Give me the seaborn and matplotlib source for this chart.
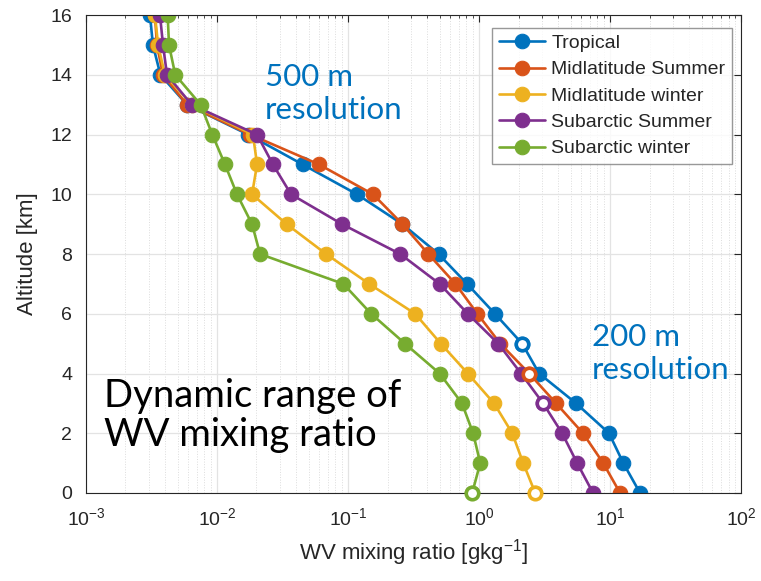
import numpy as np
import pandas as pd
import seaborn as sns
import matplotlib.pyplot as plt
from matplotlib.ticker import LogLocator, NullFormatter

# ==============================
# data
# ==============================
altitude = [0, 1, 2, 3, 4, 5, 6, 7, 8, 9, 10, 11, 12, 13, 14, 15, 16]

tropical = [16.9, 12.6, 9.8, 5.5, 2.87, 2.13, 1.32, 0.81, 0.49, 0.26,
            0.117, 0.045, 0.0173, 0.0059, 0.0037, 0.00324, 0.00308]
midlat_summer = [11.9, 8.85, 6.2, 3.87, 2.41, 1.45, 0.97, 0.66, 0.41, 0.26,
                 0.155, 0.060, 0.0179, 0.0059, 0.00387, 0.00348, 0.00336]
midlat_winter = [2.68, 2.17, 1.79, 1.30, 0.82, 0.51, 0.325, 0.145, 0.068, 0.034,
                 0.0185, 0.0202, 0.0188, 0.0064, 0.0040, 0.00355, 0.00336]
subarc_summer = [7.4, 5.6, 4.3, 3.08, 2.09, 1.40, 0.82, 0.50, 0.25, 0.090,
                 0.0367, 0.0267, 0.0202, 0.0064, 0.00415, 0.00387, 0.00367]
subarc_winter = [0.885, 1.02, 0.90, 0.74, 0.50, 0.272, 0.150, 0.092, 0.0213, 0.0185,
                 0.0142, 0.0115, 0.0092, 0.0075, 0.0048, 0.0043, 0.0042]

names = ["Tropical", "Midlatitude Summer", "Midlatitude winter",
         "Subarctic Summer", "Subarctic winter"]
profiles = [tropical, midlat_summer, midlat_winter, subarc_summer, subarc_winter]
colors = ["#0072BD", "#D95319", "#EDB120", "#7E2F8E", "#77AC30"]

# altitude where each profile switches resolution (open marker)
switch_alt = [5, 4, 0, 3, 0]

# ==============================
# build long table
# ==============================
rows = []
for name, vals in zip(names, profiles):
    for z, v in zip(altitude, vals):
        rows.append({"profile": name, "alt": z, "wv": v})
df = pd.DataFrame(rows)

# ==============================
# plot
# ==============================
sns.set_style("white")
plt.rcParams['font.family'] = ['Liberation Sans', 'DejaVu Sans']

fig = plt.figure(figsize=(7.61, 5.81), dpi=100)
ax = fig.add_axes([0.113, 0.1515, 0.861, 0.8225])

for name, c in zip(names, colors):
    sub = df[df["profile"] == name]
    sns.lineplot(data=sub, x="wv", y="alt", ax=ax, sort=False, estimator=None,
                 color=c, lw=1.9, marker="o", markersize=10.5,
                 markeredgecolor=c, label=name)

# open markers at resolution switch
for name, c, za in zip(names, colors, switch_alt):
    sub = df[(df["profile"] == name) & (df["alt"] == za)]
    ax.plot(sub["wv"], sub["alt"], "o", ms=9, mfc="white", mec=c, mew=2.6,
            zorder=5, clip_on=False)

ax.set_xscale("log")
ax.set_xlim(1e-3, 1e2)
ax.set_ylim(0, 16)
ax.set_yticks(range(0, 17, 2))
ax.xaxis.set_major_locator(LogLocator(base=10, numticks=10))
ax.xaxis.set_minor_locator(LogLocator(base=10, subs=np.arange(2, 10), numticks=20))
ax.xaxis.set_minor_formatter(NullFormatter())

ax.grid(True, which="major", color="#e3e3e3", lw=0.9)
ax.grid(True, which="minor", axis="x", color="#dcdcdc", lw=0.7, ls=":")
ax.set_axisbelow(True)

ax.tick_params(which="both", direction="in", top=True, right=True,
               labelsize=14, colors="#262626")
ax.tick_params(which="major", length=5, width=0.8)
ax.tick_params(which="minor", length=2.5, width=0.6)
ax.tick_params(axis="x", which="major", pad=10)
ax.tick_params(axis="y", which="major", pad=10)
for s in ax.spines.values():
    s.set_color("#262626")
    s.set_linewidth(0.8)

ax.set_xlabel("WV mixing ratio [gkg$^{\\mathdefault{-1}}$]", fontsize=16,
              color="#262626", labelpad=6)
ax.set_ylabel("Altitude [km]", fontsize=16, color="#262626", labelpad=9)

leg = ax.legend(loc="upper right", fontsize=14, frameon=True, fancybox=False,
                edgecolor="#7f7f7f", borderpad=0.35, labelspacing=0.45,
                handlelength=2.4, handletextpad=0.3, borderaxespad=0.3,
                bbox_to_anchor=(0.995, 0.986))
leg.get_frame().set_linewidth(1.0)

# annotations
ax.text(0.273, 0.90, "500 m\nresolution", transform=ax.transAxes, fontsize=22.5,
        color="#0072BD", family=["Lato", "DejaVu Sans"], va="top", ha="left",
        linespacing=1.22)
ax.text(0.772, 0.355, "200 m\nresolution", transform=ax.transAxes, fontsize=22.5,
        color="#0072BD", family=["Lato", "DejaVu Sans"], va="top", ha="left",
        linespacing=1.22)
ax.text(0.028, 0.24, "Dynamic range of\nWV mixing ratio", transform=ax.transAxes,
        fontsize=27.5, color="black", family=["Lato", "DejaVu Sans"], va="top",
        ha="left", linespacing=1.08)

fig.savefig("out.png", dpi=100)
